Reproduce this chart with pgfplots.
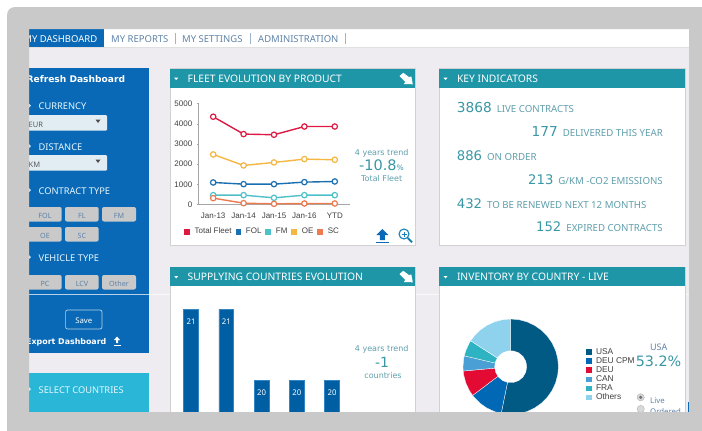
\documentclass[border=0pt]{standalone}
\usepackage{fontspec}
\usepackage{pgfplots}
\pgfplotsset{compat=1.18}
\usepgfplotslibrary{polar}
\setmainfont{Noto Sans}
\newfontfamily\arial{Liberation Sans}
\newfontfamily\ver{DejaVu Sans}
\newcommand{\fs}[1]{\fontsize{#1}{#1}\selectfont}

\definecolor{frame}{HTML}{C9C9C9}
\definecolor{pagebg}{HTML}{EEECF0}
\definecolor{navblue}{HTML}{0A69B6}
\definecolor{cyanbox}{HTML}{2AB6D6}
\definecolor{teal}{HTML}{1E96A8}
\definecolor{navtxt}{HTML}{5F83A8}
\definecolor{kinum}{HTML}{3A97A4}
\definecolor{kitxt}{HTML}{5F9FAC}
\definecolor{ddbox}{HTML}{E2EDF3}
\definecolor{cRed}{HTML}{DC1A44}
\definecolor{cFol}{HTML}{1A6FB0}
\definecolor{cFm}{HTML}{4DC0C8}
\definecolor{cOe}{HTML}{F5B642}
\definecolor{cSc}{HTML}{EE7A50}
\definecolor{pUsa}{HTML}{005A84}
\definecolor{pCpm}{HTML}{0068B4}
\definecolor{pDeu}{HTML}{E30B34}
\definecolor{pCan}{HTML}{4AA0D4}
\definecolor{pFra}{HTML}{2EB3C2}
\definecolor{pOth}{HTML}{8ED2EE}

\tikzset{
  lab/.style={inner sep=0pt,yshift=-1.4pt,font=\fs{9.5}},
  btn/.style={fill=frame,rounded corners=2pt},
}
\newcommand{\panel}[5]{% x0 y0 x1 y1 title
  \fill[white,draw=black!18,line width=0.6pt] (#1,#2) rectangle (#3,#4);
  \fill[teal] (#1,#2) rectangle (#3,#2+19);
  \fill[white] (#1+4.2,#2+9) -- ++(4,0) -- ++(-2,2.4) -- cycle;
  \node[lab,anchor=mid west,text=white,font=\fs{10.3}] at (#1+17.5,#2+9.6) {#5};
}
\newcommand{\corner}[2]{% header icon
  \fill[white] (#1,#2) -- ++(3.8,-3.2) -- ++(6,4.5) -- ++(2,-1) -- ++(1.5,8) -- ++(-9,-0.3) -- ++(1.5,-2) -- cycle;
}
\newcommand{\kpi}[6]{% anchor x y size number label
  \node[inner sep=0pt,yshift=-1.6pt,anchor=#1] at (#2,#3) {\textcolor{kinum}{\ver\fs{#4}#5}\hspace{5pt}\textcolor{kitxt}{\fs{9.7}#6}};
}
\begin{document}
\begin{tikzpicture}[x=1pt,y=-1pt]
\path[use as bounding box] (0,0) rectangle (702,431);
\fill[white] (0,0) rectangle (702,431);
\fill[pagebg] (29,29) rectangle (689,412);
\fill[white] (29,29) rectangle (689,47);
\draw[black!12,line width=0.5pt] (29,47.3) -- (689,47.3);
\draw[white!70!pagebg,line width=0.4pt] (149,294.3) -- (689,294.3);

% top navigation
\fill[navblue] (29,29) rectangle (104,47);
\node[lab,anchor=mid east,text=white] at (97.5,38.5) {MY DASHBOARD};
\node[lab,anchor=mid west,text=navtxt] at (111,38.5) {MY REPORTS};
\node[lab,anchor=mid west,text=navtxt] at (182,38.5) {MY SETTINGS};
\node[lab,anchor=mid west,text=navtxt] at (258,38.5) {ADMINISTRATION};
\foreach \x in {175,250.5,345} \draw[navtxt!60,line width=0.5pt] (\x,33) -- (\x,44);

% sidebar
\fill[navblue] (29,68) rectangle (149,352.5);
\fill[cyanbox] (29,373) rectangle (149,412);
\draw[white!70!navblue,line width=0.5pt] (29,294.3) -- (149,294.3);
\node[lab,anchor=mid west,text=white,font=\ver\bfseries\fs{9.1}] at (26.5,78) {Refresh Dashboard};
\foreach \y/\t in {105.5/CURRENCY,146/DISTANCE,190/CONTRACT TYPE,257/VEHICLE TYPE} {
  \fill[white!80!navblue] (29,\y-2) -- (31,\y) -- (29,\y+2) -- cycle;
  \node[lab,anchor=mid west,text=white!90!cyan,font=\fs{9.3}] at (38.5,\y) {\t};
}
\fill[white!80!cyanbox] (29,387) -- (31,389) -- (29,391) -- cycle;
\node[lab,anchor=mid west,text=white!90!cyan,font=\fs{9.3}] at (38.5,389) {SELECT COUNTRIES};
\foreach \y/\t in {115/EUR,155/KM} {
  \fill[ddbox,rounded corners=1pt] (25,\y) rectangle (107,\y+15.5);
  \node[lab,anchor=mid west,text=black!65,font=\fs{7.5}] at (28.5,\y+8) {\t};
  \fill[black!70] (95.5,\y+4.5) -- ++(5,0) -- ++(-2.5,3.5) -- cycle;
}
\foreach \x/\w/\c/\y/\t in {25/36.7/45/207/FOL,65/33.7/82/207/FL,102/34/119/207/FM,25/36.7/45/227/OE,65/33.7/82/227/SC,25/36.7/45/275/PC,65/33.7/82/275/LCV,102/34/119/275/Other} {
  \path[btn] (\x,\y) rectangle (\x+\w,\y+14.5);
  \node[lab,text=navtxt,font=\fs{7.2}] at (\c,\y+7.5) {\t};
}
\draw[white!70!navblue,rounded corners=2pt,line width=0.7pt] (65.6,310) rectangle (102,329);
\node[lab,text=white,font=\bfseries\fs{7.8}] at (83.8,319) {Save};
\node[lab,anchor=mid west,text=white,font=\ver\bfseries\fs{7.9}] at (26,340.7) {Export Dashboard};
\fill[white] (117,336.5) -- ++(3,3.5) -- ++(-2,0) -- ++(0,3) -- ++(-2,0) -- ++(0,-3) -- ++(-2,0) -- cycle;
\draw[white,line width=0.6pt] (113.5,345) -- (120.5,345);

% panels
\panel{170}{68.7}{415}{245}{FLEET EVOLUTION BY PRODUCT}
\panel{439.3}{68.7}{685}{245}{KEY INDICATORS}
\panel{170}{267}{415}{430}{SUPPLYING COUNTRIES EVOLUTION}
\panel{439.3}{267}{685}{430}{INVENTORY BY COUNTRY - LIVE}
\corner{399.5}{76}
\corner{399.5}{274}
\fill[navblue] (687.8,401.5) rectangle (689,412);

% line chart
\begin{axis}[
  name=fleet, at={(198pt,-204.5pt)}, anchor=south west, scale only axis,
  width=152pt, height=100.8pt,
  xmin=-0.5, xmax=4.5, ymin=0, ymax=5000,
  axis x line=bottom, axis y line=left,
  axis line style={black!35,-,line width=0.6pt},
  xtick={0,1,2,3,4}, xticklabels={Jan-13,Jan-14,Jan-15,Jan-16,YTD},
  ytick={0,1000,2000,3000,4000,5000},
  tickwidth=2.5pt, tick style={black!35,line width=0.5pt},
  x tick style={draw=none},
  tick label style={font=\arial\fs{8},text=black!75},
  x tick label style={yshift=-4pt},
  y tick label style={xshift=-1pt},
  scaled y ticks=false,
  /pgf/number format/.cd, 1000 sep={}, assume math mode=true, /pgfplots/.cd,
  clip=false,
  every axis plot/.append style={line width=1.4pt,mark=*,mark size=2.7pt,
    mark options={fill=white,line width=1.2pt}},
  legend columns=5,
  legend style={at={(-0.092,-0.27)},anchor=west,draw=none,fill=none,inner sep=0pt,
    font=\arial\fs{8},text=black!75,
    /tikz/every even column/.append style={column sep=2pt},
    /tikz/every odd column/.append style={column sep=2.5pt}},
  legend image code/.code={\fill[#1,mark=none] (0pt,-2.5pt) rectangle (4.5pt,2.5pt);},
]
\addplot[cRed] coordinates {(0,4354) (1,3493) (2,3460) (3,3868) (4,3868)};
\addplot[cFol] coordinates {(0,1093) (1,1010) (2,1010) (3,1110) (4,1142)};
\addplot[cFm] coordinates {(0,464) (1,464) (2,331) (3,464) (4,464)};
\addplot[cOe] coordinates {(0,2483) (1,1937) (2,2086) (3,2252) (4,2219)};
\addplot[cSc] coordinates {(0,315) (1,66) (2,33) (3,50) (4,50)};
\legend{Total Fleet,FOL,FM,OE,SC}
\end{axis}

% bar chart, cut off by the frame
\begin{axis}[
  name=supply, at={(173.4pt,-412pt)}, anchor=south west, scale only axis,
  width=176.25pt, height=102.7pt,
  xmin=-0.5, xmax=4.5, ymin=19.554, ymax=21,
  axis lines=none, ybar, bar width=14.7pt,
  /pgf/number format/assume math mode=true,
  nodes near coords,
  nodes near coords style={font=\fs{7.8},text=white,anchor=north,yshift=-6pt},
]
\addplot[fill=pCpm!90!black,draw=pCpm!80!white,line width=0.4pt]
  coordinates {(0,21) (1,21) (2,20) (3,20) (4,20)};
\end{axis}

% donut, share of each slice as angle around the centre
\begin{axis}[
  name=pie, at={(460.7pt,-416.7pt)}, anchor=south west, scale only axis,
  width=100pt, height=100pt,
  xmin=-50, xmax=50, ymin=-50, ymax=50,
  axis lines=none, data cs=polar,
  every axis plot/.append style={draw=white,line width=0.3pt},
  legend style={at={(1.253,0.707)},anchor=north west,draw=none,fill=none,inner sep=0pt,
    font=\arial\fs{8.4},text=black!75,row sep=-2.2pt,cells={anchor=west},
    /tikz/every odd column/.append style={column sep=2.4pt}},
  legend image code/.code={\fill[#1,draw=none] (0pt,-2.7pt) rectangle (5.4pt,2.7pt);},
]
% USA 53.2
\addplot[fill=pUsa] coordinates {(0,0) (90,47.7) (80,47.7) (70,47.7) (60,47.7) (50,47.7) (40,47.7) (30,47.7) (20,47.7) (10,47.7) (0,47.7) (-10,47.7) (-20,47.7) (-30,47.7) (-40,47.7) (-50,47.7) (-60,47.7) (-70,47.7) (-80,47.7) (-90,47.7) (-100,47.7) (-101.5,47.7)} -- cycle;
% DEU CPM 11.5
\addplot[fill=pCpm] coordinates {(0,0) (-101.5,47.7) (-110,47.7) (-120,47.7) (-130,47.7) (-140,47.7) (-143,47.7)} -- cycle;
% DEU 8.8
\addplot[fill=pDeu] coordinates {(0,0) (-143,47.7) (-150,47.7) (-160,47.7) (-170,47.7) (-174.8,47.7)} -- cycle;
% CAN 5.1
\addplot[fill=pCan] coordinates {(0,0) (185.2,47.7) (180,47.7) (170,47.7) (166.8,47.7)} -- cycle;
% FRA 5.5
\addplot[fill=pFra] coordinates {(0,0) (166.8,47.7) (160,47.7) (150,47.7) (147.1,47.7)} -- cycle;
% Others 15.9
\addplot[fill=pOth] coordinates {(0,0) (147.1,47.7) (140,47.7) (130,47.7) (120,47.7) (110,47.7) (100,47.7) (90,47.7)} -- cycle;
\addplot[fill=white,draw=white,forget plot] coordinates {(0,16) (20,16) (40,16) (60,16) (80,16) (100,16) (120,16) (140,16) (160,16) (180,16) (200,16) (220,16) (240,16) (260,16) (280,16) (300,16) (320,16) (340,16)} -- cycle;
\legend{USA,DEU CPM,DEU,CAN,FRA,Others}
\end{axis}

% texts beside the fleet chart
\tikzset{trend/.style={inner sep=0pt,yshift=-1.2pt,text=kitxt,font=\ver\fs{8}}}
\node[trend] at (381.7,151.7) {4 years trend};
\node[inner sep=0pt,text=kinum] at (381.5,165) {\ver\fs{14.5}-10.8\fs{7.5}\%};
\node[trend] at (381.7,177.7) {Total Fleet};
\node[trend] at (381.7,347.7) {4 years trend};
\node[inner sep=0pt,text=kinum,font=\ver\fs{14}] at (382,362) {-1};
\node[trend] at (383,374.7) {countries};
% export and zoom icons
\fill[navblue] (382.3,229) -- ++(6,6) -- ++(-3.5,0) -- ++(0,5) -- ++(-5,0) -- ++(0,-5) -- ++(-3.5,0) -- cycle;
\draw[navblue,line width=0.9pt] (376,242.5) -- (389,242.5);
\draw[teal!85!blue,line width=1.1pt] (404,234) circle (5);
\draw[teal!85!blue,line width=2pt] (407.8,238) -- (412,242.3);
\draw[teal!85!blue,line width=0.8pt] (401.5,234) -- (406.5,234) (404,231.5) -- (404,236.5);

% key indicators
\kpi{mid west}{456.7}{108}{13.7}{3868}{LIVE CONTRACTS}
\kpi{mid east}{663}{132}{13.7}{177}{DELIVERED THIS YEAR}
\kpi{mid west}{456.7}{156.5}{13.2}{886}{ON ORDER}
\kpi{mid east}{663}{180}{13.2}{213}{G/KM -CO2 EMISSIONS}
\kpi{mid west}{456.7}{204}{13.2}{432}{TO BE RENEWED NEXT 12 MONTHS}
\kpi{mid east}{663}{227.7}{13.2}{152}{EXPIRED CONTRACTS}

% inventory side text
\node[inner sep=0pt,text=navtxt,font=\fs{9}] at (658.7,347.7) {USA};
\node[inner sep=0pt,text=kinum,font=\ver\fs{14.3}] at (658.5,361.7) {53.2\%};
\fill[black!15,draw=black!30,line width=0.4pt] (640.7,397.3) circle (3.6);
\fill[black!55] (640.7,397.3) circle (1.8);
\fill[black!15,draw=black!30,line width=0.4pt] (640.7,409) circle (3.6);
\node[lab,anchor=mid west,text=navtxt,font=\fs{7.8}] at (650,399) {Live};
\node[lab,anchor=mid west,text=navtxt,font=\fs{7.8}] at (650,410.7) {Ordered};

% grey frame on top, it cuts the content
\fill[frame,even odd rule] (7,431) [rounded corners=8pt] -- (7,7) [sharp corners] -- (702,7) -- (702,431) -- cycle
  (29,29) rectangle (689,412);
\end{tikzpicture}
\end{document}
